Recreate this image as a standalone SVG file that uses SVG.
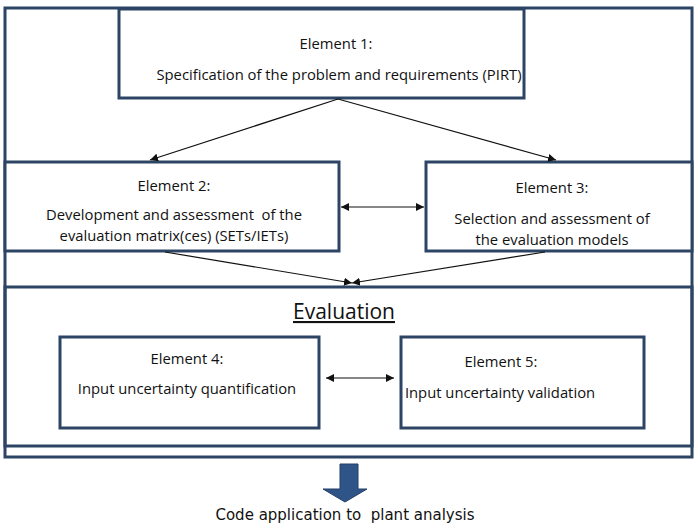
<svg xmlns="http://www.w3.org/2000/svg" width="696" height="528" viewBox="0 0 696 528">
<defs>
<style>
.box{fill:#fff;stroke:#2d4565;stroke-width:3}
.frame{fill:none;stroke:#2d4565;stroke-width:3}
text{white-space:pre}
.t{font-family:"Open Sans","Liberation Sans",sans-serif;font-size:14.8px;fill:#111;text-anchor:middle}
.c{stroke:#111;stroke-width:1.2;fill:none}
</style>
<marker id="ah" viewBox="0 0 10 10" refX="10" refY="5" markerWidth="8" markerHeight="8" markerUnits="userSpaceOnUse" orient="auto-start-reverse"><path d="M0,0L10,5L0,10z" fill="#111"/></marker>
</defs>
<rect width="696" height="528" fill="#fff"/>
<g id="outer"><rect class="frame" x="5" y="8" width="687" height="449"/></g>
<g id="evaluation"><rect class="frame" x="5" y="287" width="687" height="159"/>
<text x="344" y="319" style="font-family:'Open Sans','Liberation Sans',sans-serif;font-size:21px;fill:#111;text-anchor:middle;text-decoration:underline">Evaluation</text></g>
<g id="e1"><rect class="box" x="119" y="9" width="405" height="89"/>
<text class="t" x="336" y="49">Element 1:</text>
<text class="t" x="339" y="80">Specification of the problem and requirements (PIRT)</text></g>
<g id="e2"><rect class="box" x="5" y="162" width="334" height="89"/>
<text class="t" x="174" y="191">Element 2:</text>
<text class="t" x="174" y="220">Development and assessment  of the</text>
<text class="t" x="174" y="241">evaluation matrix(ces) (SETs/IETs)</text></g>
<g id="e3"><rect class="box" x="426" y="162" width="266" height="89"/>
<text class="t" x="552" y="193">Element 3:</text>
<text class="t" x="552" y="224">Selection and assessment of</text>
<text class="t" x="552" y="245">the evaluation models</text></g>
<g id="e4"><rect class="box" x="60" y="337" width="259" height="91"/>
<text class="t" x="187" y="364">Element 4:</text>
<text class="t" x="187" y="394">Input uncertainty quantification</text></g>
<g id="e5"><rect class="box" x="401" y="337" width="243" height="91"/>
<text class="t" x="501" y="367">Element 5:</text>
<text class="t" x="500" y="398">Input uncertainty validation</text></g>
<g id="connectors">
<line class="c" x1="338" y1="99" x2="150" y2="160" marker-end="url(#ah)"/>
<line class="c" x1="338" y1="99" x2="556" y2="160" marker-end="url(#ah)"/>
<line class="c" x1="341" y1="207" x2="424" y2="207" marker-start="url(#ah)" marker-end="url(#ah)"/>
<line class="c" x1="165" y1="252" x2="352" y2="283" marker-end="url(#ah)"/>
<line class="c" x1="545" y1="252" x2="352" y2="283" marker-end="url(#ah)"/>
<line class="c" x1="326" y1="378" x2="394" y2="378" marker-start="url(#ah)" marker-end="url(#ah)"/>
</g>
<g id="block-arrow"><path d="M340,464H358V489H367L345,502L323,489H340Z" fill="#2f5487" stroke="#243f66" stroke-width="1"/></g>
<g id="caption"><text x="345" y="520" style="font-family:'DejaVu Sans',sans-serif;font-size:15px;fill:#111;text-anchor:middle">Code application to  plant analysis</text></g>
</svg>
